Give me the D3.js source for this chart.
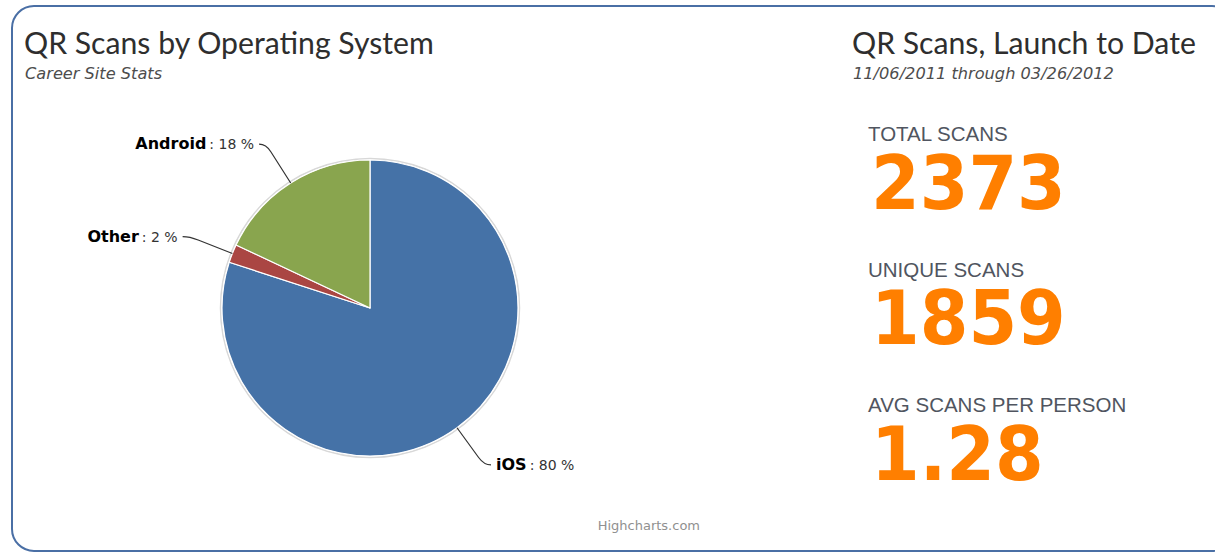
<!DOCTYPE html>
<html>
<head>
<meta charset="utf-8">
<script src="https://cdn.jsdelivr.net/npm/d3@7/dist/d3.min.js"></script>
<style>
  html, body { margin: 0; padding: 0; background: #fff; }
  svg { display: block; }
</style>
</head>
<body>
<svg id="chart" width="1215" height="553"></svg>
<script>
// ---- data ----
const categories = ["iOS", "Other", "Android"];
const shares = [80, 2, 18];
const sliceColors = ["#4572A7", "#AA4643", "#89A54E"];

const statLabels = ["TOTAL SCANS", "UNIQUE SCANS", "AVG SCANS PER PERSON"];
const statValues = ["2373", "1859", "1.28"];

const leftTitle = "QR Scans by Operating System";
const leftSubtitle = "Career Site Stats";
const rightTitle = "QR Scans, Launch to Date";
const rightSubtitle = "11/06/2011 through 03/26/2012";
const creditText = "Highcharts.com";

// ---- drawing ----
const svg = d3.select("#chart");
const W = 1215, H = 553;

svg.append("rect").attr("width", W).attr("height", H).attr("fill", "#fff");

// frame
svg.append("rect")
  .attr("x", 12).attr("y", 6)
  .attr("width", 1222).attr("height", 545)
  .attr("rx", 22).attr("ry", 22)
  .attr("fill", "#fff")
  .attr("stroke", "#4A6FA5")
  .attr("stroke-width", 2);

const titleFont = "Lato, 'Open Sans', sans-serif";
const subFont = "'DejaVu Sans', Verdana, sans-serif";

// titles
svg.append("text").attr("x", 24).attr("y", 54)
  .attr("font-family", titleFont).attr("font-size", 30.2)
  .attr("fill", "#2e2e2e").text(leftTitle);
svg.append("text").attr("x", 25).attr("y", 79)
  .attr("font-family", subFont).attr("font-size", 16.2).attr("font-style", "italic")
  .attr("fill", "#4d4d4d").text(leftSubtitle);

svg.append("text").attr("x", 852).attr("y", 54)
  .attr("font-family", titleFont).attr("font-size", 30.2)
  .attr("fill", "#2e2e2e").text(rightTitle);
svg.append("text").attr("x", 853).attr("y", 79)
  .attr("font-family", subFont).attr("font-size", 16.2).attr("font-style", "italic")
  .attr("fill", "#4d4d4d").text(rightSubtitle);

// ---- pie ----
const cx = 370, cy = 308, r = 148;
const data = categories.map((c, i) => ({ name: c, value: shares[i], color: sliceColors[i] }));
const total = d3.sum(shares);
const pie = d3.pie().sort(null).value(d => d.value);
const arcs = pie(data);
const arc = d3.arc().innerRadius(0).outerRadius(r);

const g = svg.append("g").attr("transform", `translate(${cx},${cy})`);

// faint shadow ring
g.append("circle").attr("r", r + 1.5).attr("fill", "none")
  .attr("stroke", "#d8d8d8").attr("stroke-width", 1.5);

g.selectAll("path.slice").data(arcs).join("path")
  .attr("class", "slice")
  .attr("d", arc)
  .attr("fill", d => d.data.color)
  .attr("stroke", "#fff")
  .attr("stroke-width", 1.2)
  .attr("stroke-linejoin", "round");

// labels + connectors
const labelDist = 46;
arcs.forEach(d => {
  const a = (d.startAngle + d.endAngle) / 2;
  const sx = Math.sin(a), sy = -Math.cos(a);
  const p0 = [sx * r, sy * r];
  const p1 = [sx * (r + labelDist), sy * (r + labelDist)];
  const dir = sx >= 0 ? 1 : -1;
  const p2 = [p1[0] + dir * 7, p1[1]];
  g.append("path")
    .attr("d", `M${p0[0]},${p0[1]} L${p0[0] + (p1[0]-p0[0])*0.8},${p0[1] + (p1[1]-p0[1])*0.8} Q${p1[0]},${p1[1]} ${p2[0]},${p2[1]}`)
    .attr("fill", "none").attr("stroke", "#333").attr("stroke-width", 1.2);
  const pct = Math.round(d.data.value / total * 100);
  const t = g.append("text")
    .attr("x", p1[0] + dir * 12)
    .attr("y", p1[1] + 5)
    .attr("text-anchor", dir > 0 ? "start" : "end")
    .attr("font-family", "'DejaVu Sans', Verdana, sans-serif")
    .attr("font-size", 14);
  t.append("tspan").attr("font-weight", "bold").attr("fill", "#000").attr("font-size", 16).text(d.data.name);
  t.append("tspan").attr("fill", "#333").attr("dx", 3).text(": " + pct + " %");
});

// credit
svg.append("text").attr("x", 700).attr("y", 530)
  .attr("text-anchor", "end")
  .attr("font-family", "'DejaVu Sans', Verdana, sans-serif")
  .attr("font-size", 13).attr("fill", "#909090")
  .text(creditText);

// ---- stats ----
const yStat = d3.scalePoint().domain(statLabels).range([141, 412]);
const statG = svg.append("g");
statLabels.forEach((lab, i) => {
  const y = yStat(lab);
  statG.append("text").attr("x", 868).attr("y", y)
    .attr("font-family", "'Liberation Sans', Arial, sans-serif")
    .attr("font-size", 20.5).attr("fill", "#505560")
    .text(lab);
  statG.append("text")
    .attr("transform", `translate(871,${y + 67.5}) scale(1,1.06)`)
    .attr("font-family", "'DejaVu Sans', Verdana, sans-serif")
    .attr("font-weight", "bold")
    .attr("font-size", 70)
    .attr("fill", "#FF7F00")
    .text(statValues[i]);
});
</script>
</body>
</html>
